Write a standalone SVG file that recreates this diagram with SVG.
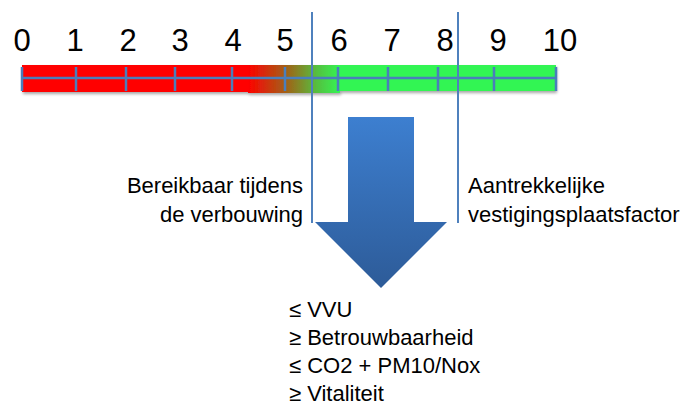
<svg xmlns="http://www.w3.org/2000/svg" width="682" height="406" viewBox="0 0 682 406">
<defs>
<linearGradient id="mix" x1="0" y1="0" x2="1" y2="0">
<stop offset="0" stop-color="#ff0000"/>
<stop offset="0.45" stop-color="#9a6a1a"/>
<stop offset="0.75" stop-color="#55c040"/>
<stop offset="1" stop-color="#33f553"/>
</linearGradient>
<linearGradient id="arrowFill" x1="0" y1="0" x2="0" y2="1">
<stop offset="0" stop-color="#3d7fd0"/>
<stop offset="1" stop-color="#2d5b98"/>
</linearGradient>
<filter id="shadow" x="-5%" y="-20%" width="110%" height="160%">
<feGaussianBlur in="SourceAlpha" stdDeviation="1.5"/>
<feOffset dx="1" dy="2" result="b"/>
<feComponentTransfer><feFuncA type="linear" slope="0.35"/></feComponentTransfer>
<feMerge><feMergeNode/><feMergeNode in="SourceGraphic"/></feMerge>
</filter>
</defs>
<style>
.num{font-family:"Liberation Sans",Arial,sans-serif;font-size:31px;fill:#000;text-anchor:middle}
.lbl{font-family:"Liberation Sans",Arial,sans-serif;font-size:22px;fill:#000}
.axis{stroke:#4a7ebb;stroke-width:2.5;fill:none}
.div{stroke:#4f81bd;stroke-width:2;fill:none}
</style>

<g id="scale">
<g filter="url(#shadow)">
<rect x="22" y="65" width="228" height="27" fill="#ff0000"/>
<rect x="248" y="65" width="92" height="28" fill="url(#mix)"/>
<rect x="338" y="65" width="218" height="26" fill="#33f553"/>
</g>
<line class="axis" x1="22" y1="78" x2="556" y2="78"/>
<g class="axis">
<line x1="22" y1="67" x2="22" y2="91"/>
<line x1="76" y1="67" x2="76" y2="91"/>
<line x1="126" y1="67" x2="126" y2="91"/>
<line x1="175" y1="67" x2="175" y2="91"/>
<line x1="232" y1="67" x2="232" y2="91"/>
<line x1="285" y1="67" x2="285" y2="91"/>
<line x1="338" y1="67" x2="338" y2="91"/>
<line x1="388" y1="67" x2="388" y2="91"/>
<line x1="438" y1="67" x2="438" y2="91"/>
<line x1="494" y1="67" x2="494" y2="91"/>
<line x1="556" y1="67" x2="556" y2="91"/>
</g>
<g id="numbers">
<text class="num" x="22" y="51">0</text>
<text class="num" x="75" y="51">1</text>
<text class="num" x="128" y="51">2</text>
<text class="num" x="180" y="51">3</text>
<text class="num" x="233" y="51">4</text>
<text class="num" x="285" y="51">5</text>
<text class="num" x="339" y="51">6</text>
<text class="num" x="392" y="51">7</text>
<text class="num" x="445" y="51">8</text>
<text class="num" x="498" y="51">9</text>
<text class="num" x="560" y="51">10</text>
</g>
</g>

<g id="dividers">
<line class="div" x1="312" y1="12" x2="312" y2="223"/>
<line class="div" x1="458" y1="12" x2="458" y2="223"/>
</g>

<g id="arrow">
<polygon points="348,117 414,117 414,222 447,222 381,288 315,222 348,222" fill="url(#arrowFill)"/>
</g>

<g id="left-label">
<text class="lbl" x="303" y="193" text-anchor="end">Bereikbaar tijdens</text>
<text class="lbl" x="303" y="222" text-anchor="end">de verbouwing</text>
</g>

<g id="right-label">
<text class="lbl" x="468" y="193">Aantrekkelijke</text>
<text class="lbl" x="468" y="222">vestigingsplaatsfactor</text>
</g>

<g id="criteria">
<text class="lbl" x="289" y="317">≤ VVU</text>
<text class="lbl" x="289" y="345">≥ Betrouwbaarheid</text>
<text class="lbl" x="289" y="373">≤ CO2 + PM10/Nox</text>
<text class="lbl" x="289" y="401">≥ Vitaliteit</text>
</g>
</svg>
